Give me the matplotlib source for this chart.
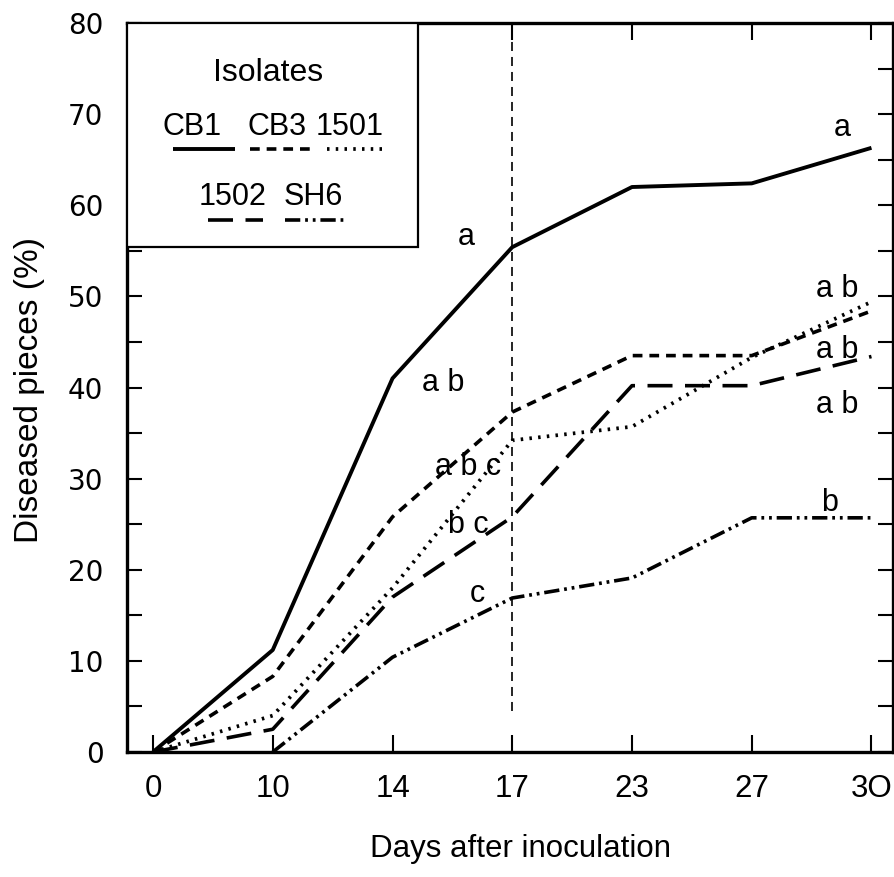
#!/usr/bin/env python3
import matplotlib
matplotlib.use("Agg")
import matplotlib.pyplot as plt
from matplotlib.patches import Rectangle
import numpy as np

# days after inoculation (tick labels, evenly spaced categories)
DAYS = ["0", "10", "14", "17", "23", "27", "3O"]

# diseased pieces (%) per isolate
CB1 = [0, 11.2, 41.0, 55.4, 62.0, 62.4, 66.3]
CB3 = [0, 8.3, 25.8, 37.3, 43.5, 43.5, 48.4]
I1501 = [0, 4.0, 18.0, 34.2, 35.7, 43.3, 49.4]
I1502 = [0, 2.5, 17.0, 25.8, 40.2, 40.2, 43.4]
SH6 = [np.nan, 0, 10.4, 16.9, 19.1, 25.7, 25.7]

# significance letters: (text, day index, value)
LETTERS = [
    ("a", 2.62, 56.5),
    ("a", 5.76, 68.5),
    ("a b", 5.71, 50.8),
    ("a b", 5.71, 44.1),
    ("a b", 5.71, 38.1),
    ("a b", 2.42, 40.5),
    ("a b c", 2.63, 31.3),
    ("b c", 2.63, 24.9),
    ("c", 2.71, 17.3),
    ("b", 5.65, 27.3),
]

FONT = "Liberation Sans"

# line styles (dash patterns in points, not scaled by width)
STYLES = {
    "CB1": dict(linestyle="-", linewidth=2.8),
    "CB3": dict(linestyle=(0, (7, 5)), linewidth=2.6),
    "1501": dict(linestyle=(0, (1.8, 4.5)), linewidth=2.7),
    "1502": dict(linestyle=(0, (18, 9)), linewidth=2.6),
    "SH6": dict(linestyle=(0, (11, 3.5, 2, 3.5, 2, 3.5)), linewidth=2.6),
}


def main():
    plt.rcParams["lines.scale_dashes"] = False
    plt.rcParams["font.family"] = FONT

    fig = plt.figure(figsize=(8.94, 8.77), dpi=100)
    ax = fig.add_axes([0.1421, 0.1425, 0.8568, 0.8313])

    x = np.arange(len(DAYS))
    series = [("CB1", CB1), ("CB3", CB3), ("1501", I1501), ("1502", I1502), ("SH6", SH6)]
    for name, vals in series:
        ax.plot(x, vals, color="black", solid_capstyle="butt", dash_capstyle="butt",
                **STYLES[name])

    # vertical reference line at day 17
    ax.plot([3, 3], [4.5, 80], color="black", linewidth=1.2, linestyle=(0, (6.5, 4.3)))

    for txt, xi, yi in LETTERS:
        ax.text(xi, yi, txt, ha="center", va="center", fontsize=22)

    ax.set_xlim(-0.217, 6.18)
    ax.set_ylim(0, 80)
    ax.set_xticks(x)
    ax.set_xticklabels(DAYS)
    ax.set_yticks(np.arange(0, 81, 10))
    ax.set_yticks(np.arange(5, 80, 10), minor=True)

    ax.tick_params(axis="both", which="both", direction="in", top=True, right=True,
                   width=1.5, color="black")
    ax.tick_params(axis="x", which="major", length=12, pad=16, labelsize=22.5)
    ax.tick_params(axis="y", which="both", length=11, pad=17, labelsize=20)
    for lab in ax.get_yticklabels():
        lab.set_family("DejaVu Sans")
    for sp in ax.spines.values():
        sp.set_linewidth(2.4)

    ax.set_xlabel("Days after inoculation", fontsize=22.5)
    ax.xaxis.set_label_coords(0.514, -0.112)
    ax.set_ylabel("Diseased pieces (%)", fontsize=24)
    ax.yaxis.set_label_coords(-0.107, 0.4966)

    # legend box, drawn by hand like the original
    ax.add_patch(Rectangle((0, 0.693), 0.380, 0.307, transform=ax.transAxes,
                           facecolor="white", edgecolor="black", linewidth=1.6, zorder=3))
    ax.text(0.184, 0.931, "Isolates", transform=ax.transAxes, ha="center", va="center",
            fontsize=23, zorder=4)
    labels_row1 = [("CB1", 0.085, 0.060, 0.141), ("CB3", 0.196, 0.161, 0.239),
                   ("1501", 0.291, 0.261, 0.333)]
    labels_row2 = [("1502", 0.138, 0.106, 0.178), ("SH6", 0.243, 0.206, 0.287)]
    for row, ty, ly in [(labels_row1, 0.857, 0.827), (labels_row2, 0.761, 0.730)]:
        for name, tx, x0, x1 in row:
            ax.text(tx, ty, name, transform=ax.transAxes, ha="center", va="center",
                    fontsize=22, zorder=4)
            ax.plot([x0, x1], [ly, ly], transform=ax.transAxes, color="black",
                    solid_capstyle="butt", dash_capstyle="butt", zorder=4,
                    **STYLES[name])

    fig.savefig("out.png", dpi=100)
    plt.close(fig)


if __name__ == "__main__":
    main()
